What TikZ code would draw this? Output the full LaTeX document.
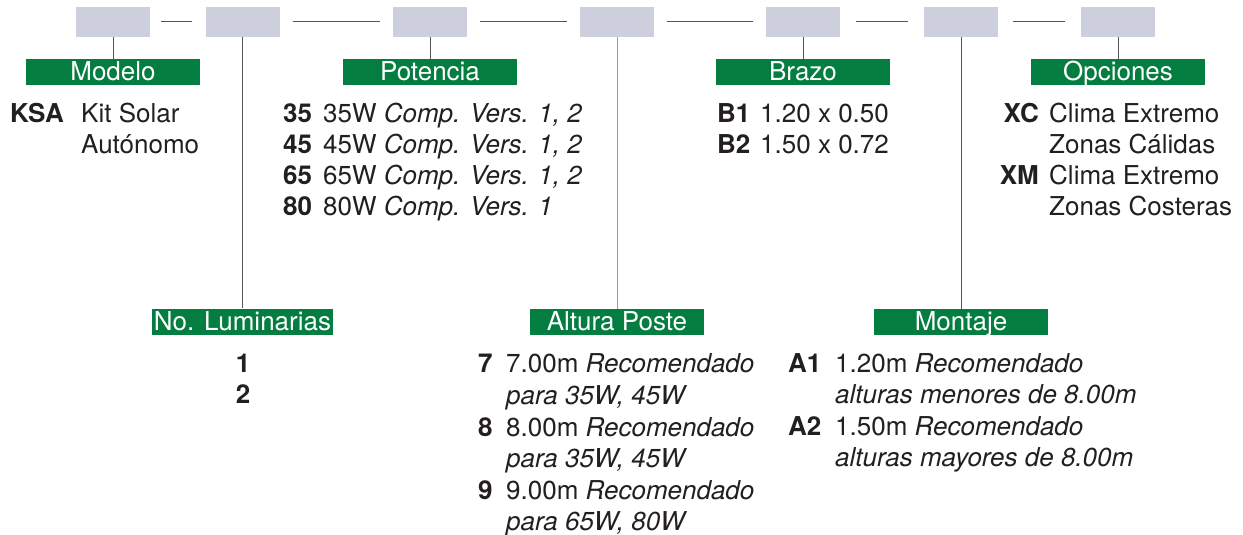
\documentclass[tikz,border=0pt]{standalone}
\usepackage{fontspec}
\setmainfont{TeX Gyre Heros}
\definecolor{lgreen}{HTML}{047D40}
\definecolor{boxgray}{HTML}{CDCFDC}
\definecolor{ink}{HTML}{231F20}
\definecolor{rulec}{HTML}{555555}
\definecolor{rulelight}{HTML}{9A9A9A}
\begin{document}
\begin{tikzpicture}[x=1pt,y=-1pt,
  codebox/.style={fill=boxgray, minimum width=74, minimum height=30, inner sep=0},
  lab/.style={fill=lgreen, text=white, minimum width=174, minimum height=26, inner sep=0, text height=19.5, text depth=2.5, font=\fontsize{26}{31}\selectfont},
  dashline/.style={draw=rulec, line width=1},
  stem/.style={draw=rulec, line width=1},
  txt/.style={anchor=base west, inner sep=0, text=ink, font=\fontsize{26}{31}\selectfont},
  code/.style={anchor=base west, inner sep=0, text=ink, font=\fontsize{26}{31}\selectfont\bfseries},
  coder/.style={anchor=base east, inner sep=0, text=ink, font=\fontsize{26}{31}\selectfont\bfseries},
]
\useasboundingbox (0,0) rectangle (1243,535);

% top code boxes
\node[codebox] (b1) at (113,22) {};
\node[codebox] (b2) at (242.5,22) {};
\node[codebox] (b3) at (430,22) {};
\node[codebox] (b4) at (617,22) {};
\node[codebox] (b5) at (803,22) {};
\node[codebox] (b6) at (961,22) {};
\node[codebox] (b7) at (1118,22) {};

% dashes between boxes
\draw[dashline, shorten <=11, shorten >=13] (b1.east) -- (b2.west);
\draw[dashline, shorten <=13, shorten >=13] (b2.east) -- (b3.west);
\draw[dashline, shorten <=13, shorten >=13] (b3.east) -- (b4.west);
\draw[dashline, shorten <=13, shorten >=13] (b4.east) -- (b5.west);
\draw[dashline, shorten <=16, shorten >=16] (b5.east) -- (b6.west);
\draw[dashline, shorten <=15, shorten >=16] (b6.east) -- (b7.west);

% green labels
\node[lab] (modelo) at (113,72) {Modelo};
\node[lab] (potencia) at (430,72) {Potencia};
\node[lab] (brazo) at (803,72) {Brazo};
\node[lab] (opciones) at (1118,72) {Opciones};
\node[lab, minimum width=181] (lum) at (242.5,321.5) {No. Luminarias};
\node[lab] (altura) at (617,322) {Altura Poste};
\node[lab] (montaje) at (961,322) {Montaje};

% stems
\draw[stem] (b1.south) -- (modelo.north);
\draw[stem] (b2.south) -- (lum.north);
\draw[stem] (b3.south) -- (potencia.north);
\draw[stem, draw=rulelight] (b4.south) -- (altura.north);
\draw[stem] (b5.south) -- (brazo.north);
\draw[stem] (b6.south) -- (montaje.north);
\draw[stem] (b7.south) -- (opciones.north);

% Modelo
\node[code] (ksa) at (10,122) {KSA};
\node[txt] (ksa1) at (81,122) {Kit Solar};
\node[txt] (ksa2) at (81,153) {Autónomo};

% Potencia
\node[code] (p35) at (283,122) {35};
\node[txt] (p35t) at (323,122) {35W \itshape Comp. Vers. 1, 2};
\node[code] (p45) at (283,153) {45};
\node[txt] (p45t) at (323,153) {45W \itshape Comp. Vers. 1, 2};
\node[code] (p65) at (283,184) {65};
\node[txt] (p65t) at (323,184) {65W \itshape Comp. Vers. 1, 2};
\node[code] (p80) at (283,215) {80};
\node[txt] (p80t) at (323,215) {80W \itshape Comp. Vers. 1};

% Brazo
\node[code] (br1) at (717,122) {B1};
\node[txt] (br1t) at (760,122) {1.20 x 0.50};
\node[code] (br2) at (717,153) {B2};
\node[txt] (br2t) at (760,153) {1.50 x 0.72};

% Opciones
\node[coder] (xc) at (1039,122) {XC};
\node[txt] (xc1) at (1049,122) {Clima Extremo};
\node[txt] (xc2) at (1049,153) {Zonas Cálidas};
\node[coder] (xm) at (1039,184) {XM};
\node[txt] (xm1) at (1049,184) {Clima Extremo};
\node[txt] (xm2) at (1049,215) {Zonas Costeras};

% No. Luminarias
\node[code, anchor=base] (l1) at (243,372) {1};
\node[code, anchor=base] (l2) at (243,403) {2};

% Altura Poste
\node[code] (a7) at (478,372.7) {7};
\node[txt] (a7a) at (506,372.7) {7.00m \itshape Recomendado};
\node[txt] (a7b) at (506,404.3) {\itshape para 35W, 45W};
\node[code] (a8) at (478,436) {8};
\node[txt] (a8a) at (506,436) {8.00m \itshape Recomendado};
\node[txt] (a8b) at (506,467.5) {\itshape para 35W, 45W};
\node[code] (a9) at (478,499) {9};
\node[txt] (a9a) at (506,499) {9.00m \itshape Recomendado};
\node[txt] (a9b) at (506,530.5) {\itshape para 65W, 80W};

% Montaje
\node[code] (m1) at (788,372) {A1};
\node[txt] (m1a) at (835,372) {1.20m \itshape Recomendado};
\node[txt] (m1b) at (835,403) {\itshape alturas menores de 8.00m};
\node[code] (m2) at (788,435) {A2};
\node[txt] (m2a) at (835,435) {1.50m \itshape Recomendado};
\node[txt] (m2b) at (835,466) {\itshape alturas mayores de 8.00m};
\end{tikzpicture}
\end{document}
